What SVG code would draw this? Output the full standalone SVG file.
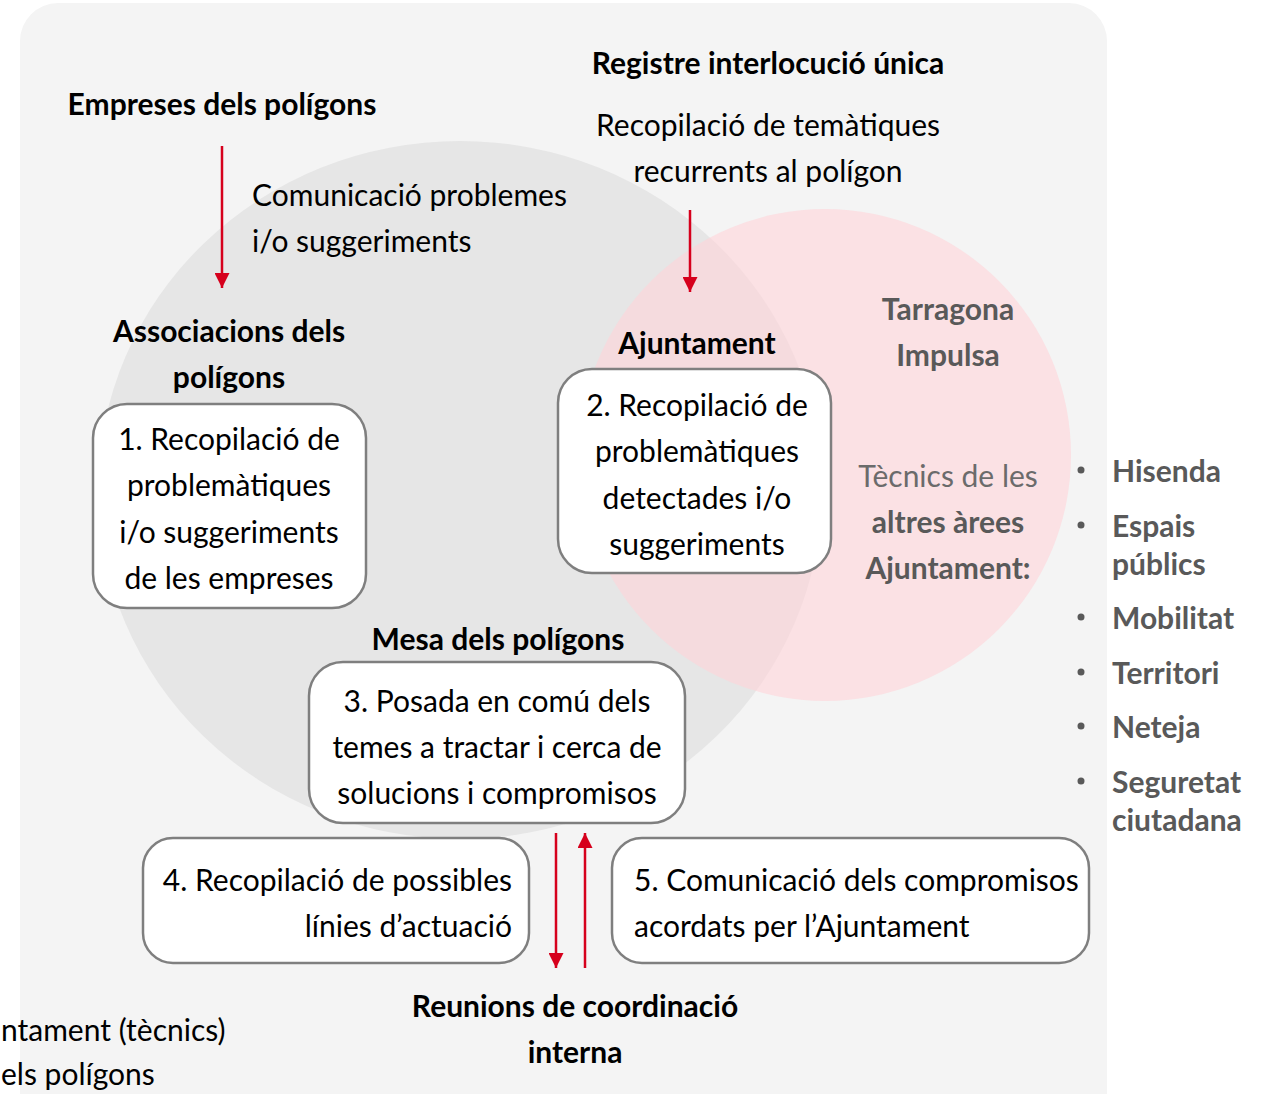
<svg xmlns="http://www.w3.org/2000/svg" width="1263" height="1094" viewBox="0 0 1263 1094">
<defs>
<style>
.t{font-family:Lato,"Open Sans","Liberation Sans",sans-serif;font-size:30px;fill:#000}
.b{font-weight:bold}
.g{fill:#595959}
.gl{fill:#6b6b6b}
.c{text-anchor:middle}
.e{text-anchor:end}
.box{fill:#fff;stroke:#7f7f7f;stroke-width:2.5}
.arr{stroke:#d6001c;stroke-width:2.5;fill:none}
</style>
<marker id="ah" viewBox="0 0 15 15" refX="15" refY="7.5" markerWidth="15" markerHeight="15" markerUnits="userSpaceOnUse" orient="auto">
<path d="M0,0 L15,7.5 L0,15 z" fill="#d6001c"/>
</marker>
</defs>
<rect x="0" y="0" width="1263" height="1094" fill="#fff"/>
<rect id="panel" x="20" y="3" width="1087" height="1130" rx="38" fill="#f4f4f4"/>
<ellipse id="circle-poligons" cx="460" cy="490" rx="362" ry="349" fill="#e6e6e6"/>
<circle id="circle-tarragona" cx="825" cy="455" r="246" fill="#ffd3d8" fill-opacity="0.6"/>

<g id="connectors">
<line class="arr" x1="222" y1="146" x2="222" y2="288" marker-end="url(#ah)"/>
<line class="arr" x1="690" y1="210" x2="690" y2="292" marker-end="url(#ah)"/>
<line class="arr" x1="556" y1="833" x2="556" y2="968" marker-end="url(#ah)"/>
<line class="arr" x1="585" y1="968" x2="585" y2="833" marker-end="url(#ah)"/>
</g>

<g id="empreses"><text class="t b c" x="222" y="115">Empreses dels polígons</text></g>
<g id="comunicacio">
<text class="t" x="252" y="206">Comunicació problemes</text>
<text class="t" x="252" y="252">i/o suggeriments</text>
</g>
<g id="registre">
<text class="t b c" x="768" y="74">Registre interlocució única</text>
<text class="t c" x="768" y="136">Recopilació de temàtiques</text>
<text class="t c" x="768" y="182">recurrents al polígon</text>
</g>
<g id="associacions">
<text class="t b c" x="229" y="342">Associacions dels</text>
<text class="t b c" x="229" y="388">polígons</text>
</g>
<g id="box1">
<rect class="box" x="93" y="404" width="273" height="204" rx="34"/>
<text class="t c" x="229" y="450">1. Recopilació de</text>
<text class="t c" x="229" y="496">problemàtiques</text>
<text class="t c" x="229" y="543">i/o suggeriments</text>
<text class="t c" x="229" y="589">de les empreses</text>
</g>
<g id="ajuntament"><text class="t b c" x="697" y="354">Ajuntament</text></g>
<g id="box2">
<rect class="box" x="558" y="369" width="273" height="204" rx="34"/>
<text class="t c" x="697" y="416">2. Recopilació de</text>
<text class="t c" x="697" y="462">problemàtiques</text>
<text class="t c" x="697" y="509">detectades i/o</text>
<text class="t c" x="697" y="555">suggeriments</text>
</g>
<g id="tarragona">
<text class="t b c g" x="948" y="320">Tarragona</text>
<text class="t b c g" x="948" y="366">Impulsa</text>
<text class="t c gl" x="948" y="487">Tècnics de les</text>
<text class="t b c g" x="948" y="533">altres àrees</text>
<text class="t b c g" x="948" y="579">Ajuntament:</text>
</g>
<g id="arees" fill="#595959">
<circle cx="1081" cy="470" r="3.5"/>
<circle cx="1081" cy="525" r="3.5"/>
<circle cx="1081" cy="617" r="3.5"/>
<circle cx="1081" cy="672" r="3.5"/>
<circle cx="1081" cy="726" r="3.5"/>
<circle cx="1081" cy="781" r="3.5"/>
<text class="t b g" x="1112" y="482">Hisenda</text>
<text class="t b g" x="1112" y="537">Espais</text>
<text class="t b g" x="1112" y="575">públics</text>
<text class="t b g" x="1112" y="629">Mobilitat</text>
<text class="t b g" x="1112" y="684">Territori</text>
<text class="t b g" x="1112" y="738">Neteja</text>
<text class="t b g" x="1112" y="793">Seguretat</text>
<text class="t b g" x="1112" y="831">ciutadana</text>
</g>
<g id="mesa"><text class="t b c" x="498" y="650">Mesa dels polígons</text></g>
<g id="box3">
<rect class="box" x="309" y="662" width="376" height="161" rx="34"/>
<text class="t c" x="497" y="712">3. Posada en comú dels</text>
<text class="t c" x="497" y="758">temes a tractar i cerca de</text>
<text class="t c" x="497" y="804">solucions i compromisos</text>
</g>
<g id="box4">
<rect class="box" x="143" y="838" width="386" height="125" rx="30"/>
<text class="t e" x="512" y="891">4. Recopilació de possibles</text>
<text class="t e" x="512" y="937">línies d’actuació</text>
</g>
<g id="box5">
<rect class="box" x="612" y="838" width="477" height="125" rx="30"/>
<text class="t" x="634" y="891">5. Comunicació dels compromisos</text>
<text class="t" x="634" y="937">acordats per l’Ajuntament</text>
</g>
<g id="reunions">
<text class="t b c" x="575" y="1017">Reunions de coordinació</text>
<text class="t b c" x="575" y="1063">interna</text>
</g>
<g id="overflow">
<text class="t" x="1" y="1041">ntament (tècnics)</text>
<text class="t" x="1" y="1085">els polígons</text>
</g>
</svg>
